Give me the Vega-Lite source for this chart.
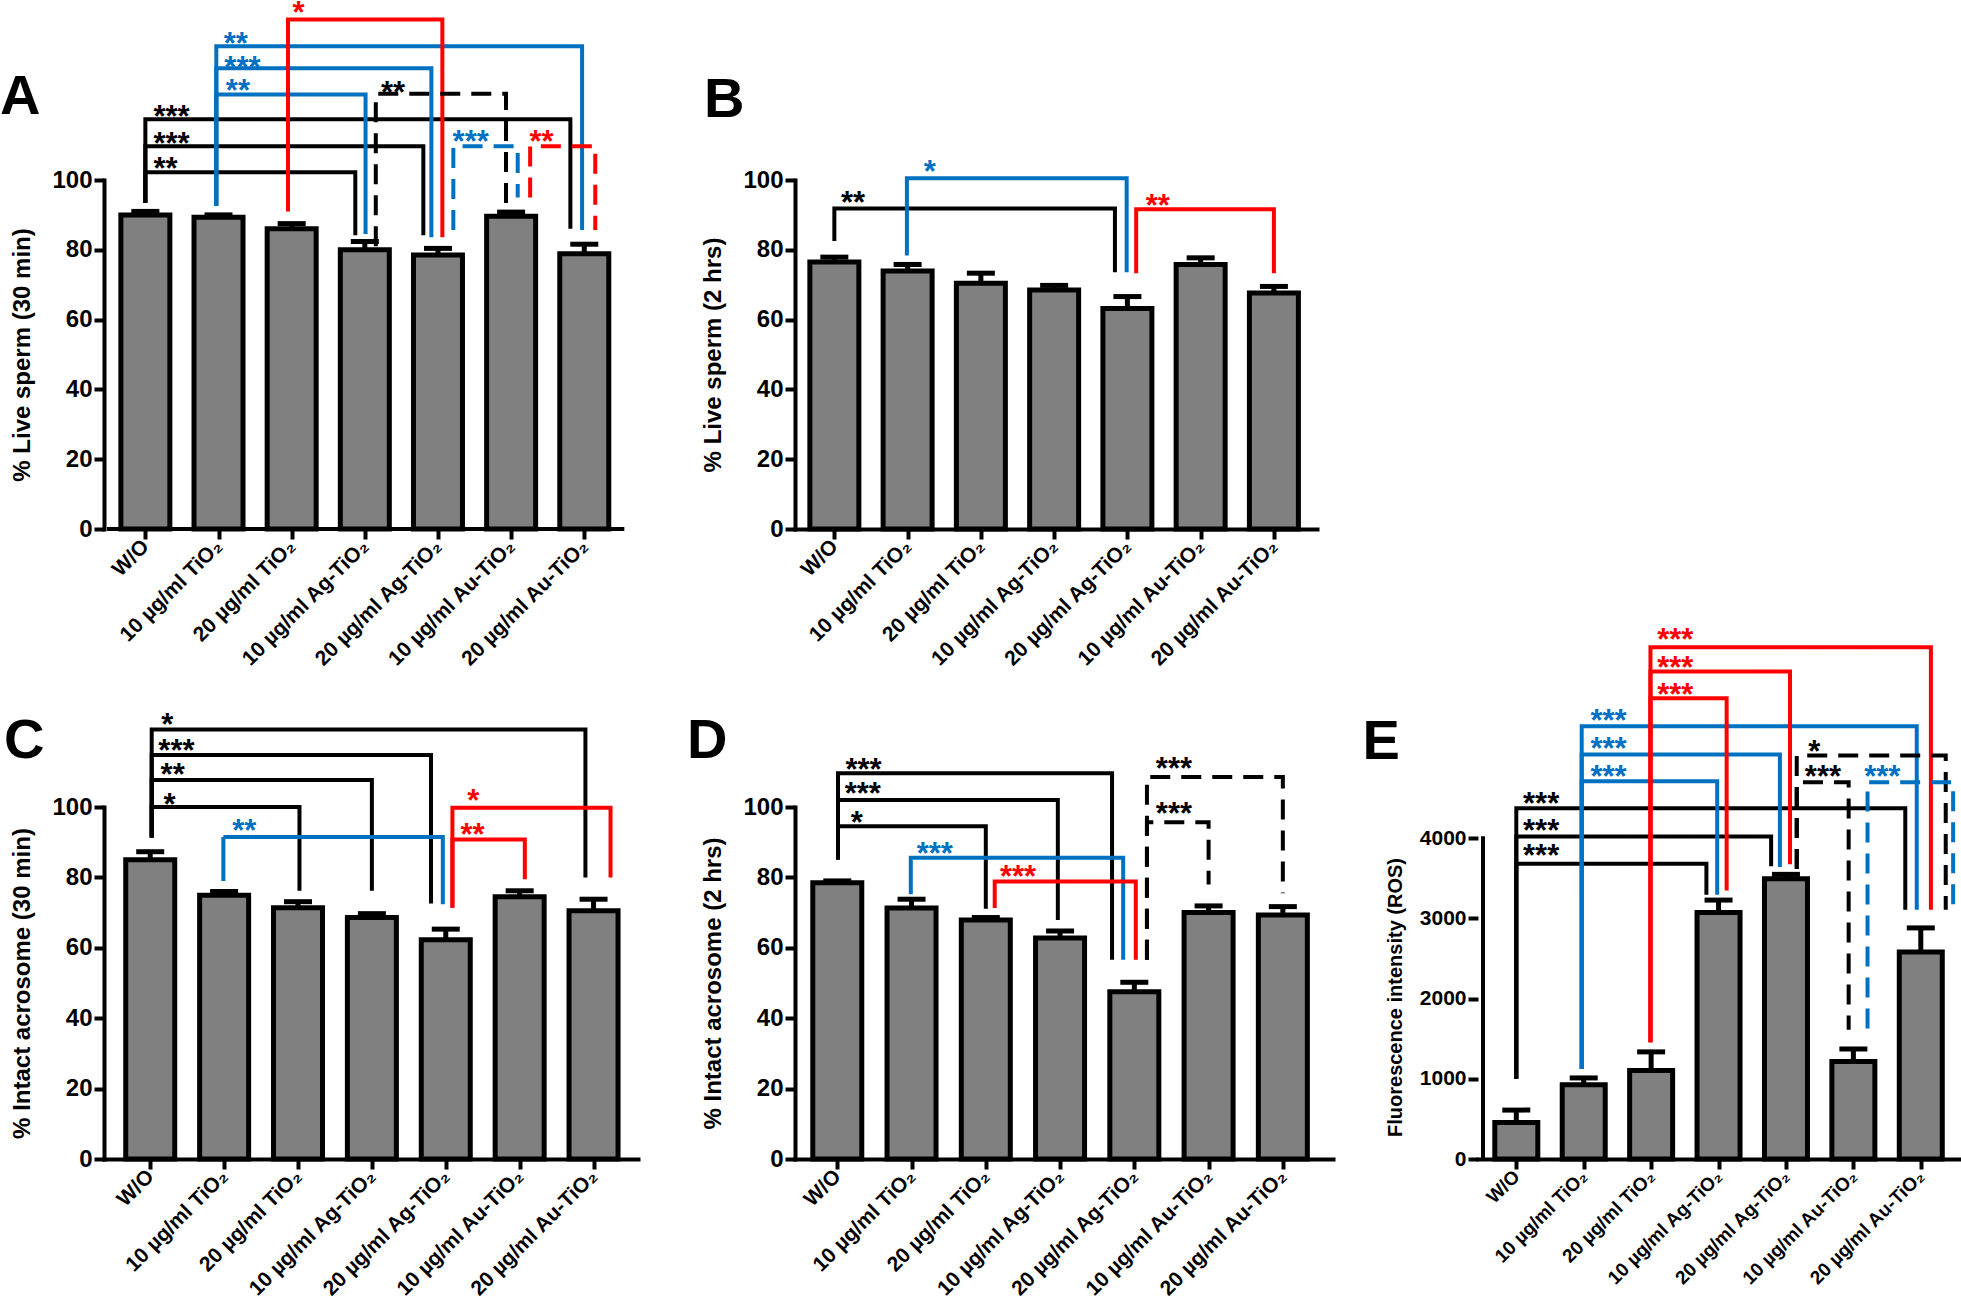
{
"$schema": "https://vega.github.io/schema/vega-lite/v6.json",
"background": "white",
"padding": {"left": 0, "top": -3, "right": 2, "bottom": 2},
"config": {
 "view": {"stroke": null},
 "axis": {"domainColor": "#000000", "domainWidth": 4, "domainCap": "square", "tickColor": "#000000", "tickWidth": 4, "tickSize": 10, "labelFont": "Liberation Sans", "labelFontWeight": "bold", "labelColor": "#000000", "titleFont": "Liberation Sans", "titleFontWeight": "bold", "titleColor": "#000000", "grid": false}
},
"datasets": {
 "barsA": [{"i":0,"mean":90.0,"hi":91.0},{"i":1,"mean":89.3,"hi":90.0},{"i":2,"mean":86.0,"hi":87.5},{"i":3,"mean":80.0,"hi":82.4},{"i":4,"mean":78.5,"hi":80.4},{"i":5,"mean":89.6,"hi":90.8},{"i":6,"mean":78.9,"hi":81.6}],
 "barsB": [{"i":0,"mean":76.5,"hi":77.9},{"i":1,"mean":73.9,"hi":75.8},{"i":2,"mean":70.4,"hi":73.3},{"i":3,"mean":68.5,"hi":69.8},{"i":4,"mean":63.2,"hi":66.6},{"i":5,"mean":75.8,"hi":77.7},{"i":6,"mean":67.6,"hi":69.5}],
 "barsC": [{"i":0,"mean":85.0,"hi":87.3},{"i":1,"mean":74.9,"hi":76.0},{"i":2,"mean":71.4,"hi":73.1},{"i":3,"mean":68.6,"hi":69.7},{"i":4,"mean":62.3,"hi":65.3},{"i":5,"mean":74.5,"hi":76.2},{"i":6,"mean":70.5,"hi":73.8}],
 "barsD": [{"i":0,"mean":78.5,"hi":79.0},{"i":1,"mean":71.3,"hi":73.8},{"i":2,"mean":67.9,"hi":68.6},{"i":3,"mean":62.8,"hi":64.8},{"i":4,"mean":47.5,"hi":50.2},{"i":5,"mean":70.0,"hi":71.9},{"i":6,"mean":69.3,"hi":71.7}],
 "barsE": [{"i":0,"mean":454,"hi":610},{"i":1,"mean":926,"hi":1011},{"i":2,"mean":1105,"hi":1336},{"i":3,"mean":3073,"hi":3229},{"i":4,"mean":3496,"hi":3550},{"i":5,"mean":1216,"hi":1372},{"i":6,"mean":2583,"hi":2882}],
 "brA": [
  {"id":"A1","o":1,"x":0,"y":93.4,"c":"black","d":"solid"},{"id":"A1","o":2,"x":0,"y":102.2,"c":"black","d":"solid"},{"id":"A1","o":3,"x":2.87,"y":102.2,"c":"black","d":"solid"},{"id":"A1","o":4,"x":2.87,"y":84.2,"c":"black","d":"solid"},
  {"id":"A2","o":1,"x":0,"y":93.4,"c":"black","d":"solid"},{"id":"A2","o":2,"x":0,"y":109.7,"c":"black","d":"solid"},{"id":"A2","o":3,"x":3.8,"y":109.7,"c":"black","d":"solid"},{"id":"A2","o":4,"x":3.8,"y":84.2,"c":"black","d":"solid"},
  {"id":"A3","o":1,"x":0,"y":93.4,"c":"black","d":"solid"},{"id":"A3","o":2,"x":0,"y":117.4,"c":"black","d":"solid"},{"id":"A3","o":3,"x":5.81,"y":117.4,"c":"black","d":"solid"},{"id":"A3","o":4,"x":5.81,"y":86,"c":"black","d":"solid"},
  {"id":"A4","o":1,"x":0.97,"y":92.6,"c":"blue","d":"solid"},{"id":"A4","o":2,"x":0.97,"y":124.5,"c":"blue","d":"solid"},{"id":"A4","o":3,"x":3.01,"y":124.5,"c":"blue","d":"solid"},{"id":"A4","o":4,"x":3.01,"y":84.5,"c":"blue","d":"solid"},
  {"id":"A5","o":1,"x":0.97,"y":92.6,"c":"blue","d":"solid"},{"id":"A5","o":2,"x":0.97,"y":132,"c":"blue","d":"solid"},{"id":"A5","o":3,"x":3.91,"y":132,"c":"blue","d":"solid"},{"id":"A5","o":4,"x":3.91,"y":83.6,"c":"blue","d":"solid"},
  {"id":"A6","o":1,"x":0.97,"y":92.6,"c":"blue","d":"solid"},{"id":"A6","o":2,"x":0.97,"y":138.3,"c":"blue","d":"solid"},{"id":"A6","o":3,"x":5.97,"y":138.3,"c":"blue","d":"solid"},{"id":"A6","o":4,"x":5.97,"y":85.7,"c":"blue","d":"solid"},
  {"id":"A7","o":1,"x":1.95,"y":91,"c":"red","d":"solid"},{"id":"A7","o":2,"x":1.95,"y":146,"c":"red","d":"solid"},{"id":"A7","o":3,"x":4.06,"y":146,"c":"red","d":"solid"},{"id":"A7","o":4,"x":4.06,"y":83.6,"c":"red","d":"solid"},
  {"id":"A8","o":1,"x":3.15,"y":81,"c":"black","d":"dash"},{"id":"A8","o":2,"x":3.15,"y":124.7,"c":"black","d":"dash"},{"id":"A8","o":3,"x":4.93,"y":124.7,"c":"black","d":"dash"},{"id":"A8","o":4,"x":4.93,"y":90.3,"c":"black","d":"dash"},
  {"id":"A9","o":1,"x":4.21,"y":85.7,"c":"blue","d":"dash"},{"id":"A9","o":2,"x":4.21,"y":109.7,"c":"blue","d":"dash"},{"id":"A9","o":3,"x":5.09,"y":109.7,"c":"blue","d":"dash"},{"id":"A9","o":4,"x":5.09,"y":95,"c":"blue","d":"dash"},
  {"id":"A10","o":1,"x":5.26,"y":95,"c":"red","d":"dash"},{"id":"A10","o":2,"x":5.26,"y":109.7,"c":"red","d":"dash"},{"id":"A10","o":3,"x":6.15,"y":109.7,"c":"red","d":"dash"},{"id":"A10","o":4,"x":6.15,"y":85.7,"c":"red","d":"dash"}
 ],
 "brB": [
  {"id":"B1","o":1,"x":0,"y":82.5,"c":"black","d":"solid"},{"id":"B1","o":2,"x":0,"y":91.8,"c":"black","d":"solid"},{"id":"B1","o":3,"x":3.83,"y":91.8,"c":"black","d":"solid"},{"id":"B1","o":4,"x":3.83,"y":73.6,"c":"black","d":"solid"},
  {"id":"B2","o":1,"x":0.99,"y":78.4,"c":"blue","d":"solid"},{"id":"B2","o":2,"x":0.99,"y":100.5,"c":"blue","d":"solid"},{"id":"B2","o":3,"x":3.99,"y":100.5,"c":"blue","d":"solid"},{"id":"B2","o":4,"x":3.99,"y":73.6,"c":"blue","d":"solid"},
  {"id":"B3","o":1,"x":4.12,"y":73.3,"c":"red","d":"solid"},{"id":"B3","o":2,"x":4.12,"y":91.6,"c":"red","d":"solid"},{"id":"B3","o":3,"x":6.0,"y":91.6,"c":"red","d":"solid"},{"id":"B3","o":4,"x":6.0,"y":73.3,"c":"red","d":"solid"}
 ],
 "brC": [
  {"id":"C1","o":1,"x":0.02,"y":91.3,"c":"black","d":"solid"},{"id":"C1","o":2,"x":0.02,"y":100,"c":"black","d":"solid"},{"id":"C1","o":3,"x":2.02,"y":100,"c":"black","d":"solid"},{"id":"C1","o":4,"x":2.02,"y":76.2,"c":"black","d":"solid"},
  {"id":"C2","o":1,"x":0.02,"y":91.3,"c":"black","d":"solid"},{"id":"C2","o":2,"x":0.02,"y":107.7,"c":"black","d":"solid"},{"id":"C2","o":3,"x":3.0,"y":107.7,"c":"black","d":"solid"},{"id":"C2","o":4,"x":3.0,"y":76.2,"c":"black","d":"solid"},
  {"id":"C3","o":1,"x":0.02,"y":91.3,"c":"black","d":"solid"},{"id":"C3","o":2,"x":0.02,"y":114.8,"c":"black","d":"solid"},{"id":"C3","o":3,"x":3.8,"y":114.8,"c":"black","d":"solid"},{"id":"C3","o":4,"x":3.8,"y":72.6,"c":"black","d":"solid"},
  {"id":"C4","o":1,"x":0.02,"y":91.3,"c":"black","d":"solid"},{"id":"C4","o":2,"x":0.02,"y":122,"c":"black","d":"solid"},{"id":"C4","o":3,"x":5.89,"y":122,"c":"black","d":"solid"},{"id":"C4","o":4,"x":5.89,"y":80,"c":"black","d":"solid"},
  {"id":"C5","o":1,"x":0.99,"y":79,"c":"blue","d":"solid"},{"id":"C5","o":2,"x":0.99,"y":91.5,"c":"blue","d":"solid"},{"id":"C5","o":3,"x":3.96,"y":91.5,"c":"blue","d":"solid"},{"id":"C5","o":4,"x":3.96,"y":72.4,"c":"blue","d":"solid"},
  {"id":"C6","o":1,"x":4.09,"y":71.4,"c":"red","d":"solid"},{"id":"C6","o":2,"x":4.09,"y":90.8,"c":"red","d":"solid"},{"id":"C6","o":3,"x":5.07,"y":90.8,"c":"red","d":"solid"},{"id":"C6","o":4,"x":5.07,"y":79.5,"c":"red","d":"solid"},
  {"id":"C7","o":1,"x":4.09,"y":71.4,"c":"red","d":"solid"},{"id":"C7","o":2,"x":4.09,"y":99.8,"c":"red","d":"solid"},{"id":"C7","o":3,"x":6.23,"y":99.8,"c":"red","d":"solid"},{"id":"C7","o":4,"x":6.23,"y":80,"c":"red","d":"solid"}
 ],
 "brD": [
  {"id":"D1","o":1,"x":0.01,"y":85.1,"c":"black","d":"solid"},{"id":"D1","o":2,"x":0.01,"y":94.5,"c":"black","d":"solid"},{"id":"D1","o":3,"x":2.0,"y":94.5,"c":"black","d":"solid"},{"id":"D1","o":4,"x":2.0,"y":71.1,"c":"black","d":"solid"},
  {"id":"D2","o":1,"x":0.01,"y":85.1,"c":"black","d":"solid"},{"id":"D2","o":2,"x":0.01,"y":102,"c":"black","d":"solid"},{"id":"D2","o":3,"x":2.97,"y":102,"c":"black","d":"solid"},{"id":"D2","o":4,"x":2.97,"y":67.9,"c":"black","d":"solid"},
  {"id":"D3","o":1,"x":0.01,"y":85.1,"c":"black","d":"solid"},{"id":"D3","o":2,"x":0.01,"y":109.6,"c":"black","d":"solid"},{"id":"D3","o":3,"x":3.7,"y":109.6,"c":"black","d":"solid"},{"id":"D3","o":4,"x":3.7,"y":56.6,"c":"black","d":"solid"},
  {"id":"D4","o":1,"x":0.99,"y":75.2,"c":"blue","d":"solid"},{"id":"D4","o":2,"x":0.99,"y":85.6,"c":"blue","d":"solid"},{"id":"D4","o":3,"x":3.85,"y":85.6,"c":"blue","d":"solid"},{"id":"D4","o":4,"x":3.85,"y":56.6,"c":"blue","d":"solid"},
  {"id":"D5","o":1,"x":2.12,"y":71.3,"c":"red","d":"solid"},{"id":"D5","o":2,"x":2.12,"y":78.8,"c":"red","d":"solid"},{"id":"D5","o":3,"x":4.02,"y":78.8,"c":"red","d":"solid"},{"id":"D5","o":4,"x":4.02,"y":56.6,"c":"red","d":"solid"},
  {"id":"D6","o":1,"x":4.17,"y":56.6,"c":"black","d":"dash"},{"id":"D6","o":2,"x":4.17,"y":108.5,"c":"black","d":"dash"},{"id":"D6","o":3,"x":6.0,"y":108.5,"c":"black","d":"dash"},{"id":"D6","o":4,"x":6.0,"y":75.5,"c":"black","d":"dash"},
  {"id":"D7","o":1,"x":4.17,"y":56.6,"c":"black","d":"dash"},{"id":"D7","o":2,"x":4.17,"y":95.7,"c":"black","d":"dash"},{"id":"D7","o":3,"x":5.0,"y":95.7,"c":"black","d":"dash"},{"id":"D7","o":4,"x":5.0,"y":78,"c":"black","d":"dash"}
 ],
 "brE": [
  {"id":"E1","o":1,"x":0,"y":1002,"c":"black","d":"solid"},{"id":"E1","o":2,"x":0,"y":3683,"c":"black","d":"solid"},{"id":"E1","o":3,"x":2.82,"y":3683,"c":"black","d":"solid"},{"id":"E1","o":4,"x":2.82,"y":3296,"c":"black","d":"solid"},
  {"id":"E2","o":1,"x":0,"y":1002,"c":"black","d":"solid"},{"id":"E2","o":2,"x":0,"y":4022,"c":"black","d":"solid"},{"id":"E2","o":3,"x":3.78,"y":4022,"c":"black","d":"solid"},{"id":"E2","o":4,"x":3.78,"y":3652,"c":"black","d":"solid"},
  {"id":"E3","o":1,"x":0,"y":1002,"c":"black","d":"solid"},{"id":"E3","o":2,"x":0,"y":4374,"c":"black","d":"solid"},{"id":"E3","o":3,"x":5.77,"y":4374,"c":"black","d":"solid"},{"id":"E3","o":4,"x":5.77,"y":3109,"c":"black","d":"solid"},
  {"id":"E4","o":1,"x":0.97,"y":1122,"c":"blue","d":"solid"},{"id":"E4","o":2,"x":0.97,"y":4712,"c":"blue","d":"solid"},{"id":"E4","o":3,"x":2.98,"y":4712,"c":"blue","d":"solid"},{"id":"E4","o":4,"x":2.98,"y":3296,"c":"blue","d":"solid"},
  {"id":"E5","o":1,"x":0.97,"y":1122,"c":"blue","d":"solid"},{"id":"E5","o":2,"x":0.97,"y":5046,"c":"blue","d":"solid"},{"id":"E5","o":3,"x":3.91,"y":5046,"c":"blue","d":"solid"},{"id":"E5","o":4,"x":3.91,"y":3643,"c":"blue","d":"solid"},
  {"id":"E6","o":1,"x":0.97,"y":1122,"c":"blue","d":"solid"},{"id":"E6","o":2,"x":0.97,"y":5398,"c":"blue","d":"solid"},{"id":"E6","o":3,"x":5.94,"y":5398,"c":"blue","d":"solid"},{"id":"E6","o":4,"x":5.94,"y":3109,"c":"blue","d":"solid"},
  {"id":"E7","o":1,"x":1.99,"y":1456,"c":"red","d":"solid"},{"id":"E7","o":2,"x":1.99,"y":5746,"c":"red","d":"solid"},{"id":"E7","o":3,"x":3.12,"y":5746,"c":"red","d":"solid"},{"id":"E7","o":4,"x":3.12,"y":3349,"c":"red","d":"solid"},
  {"id":"E8","o":1,"x":1.99,"y":1456,"c":"red","d":"solid"},{"id":"E8","o":2,"x":1.99,"y":6080,"c":"red","d":"solid"},{"id":"E8","o":3,"x":4.06,"y":6080,"c":"red","d":"solid"},{"id":"E8","o":4,"x":4.06,"y":3675,"c":"red","d":"solid"},
  {"id":"E9","o":1,"x":1.99,"y":1456,"c":"red","d":"solid"},{"id":"E9","o":2,"x":1.99,"y":6383,"c":"red","d":"solid"},{"id":"E9","o":3,"x":6.15,"y":6383,"c":"red","d":"solid"},{"id":"E9","o":4,"x":6.15,"y":3109,"c":"red","d":"solid"},
  {"id":"E10","o":1,"x":4.16,"y":3617,"c":"black","d":"dash"},{"id":"E10","o":2,"x":4.16,"y":4699,"c":"black","d":"dash"},{"id":"E10","o":3,"x":4.93,"y":4699,"c":"black","d":"dash"},{"id":"E10","o":4,"x":4.93,"y":1612,"c":"black","d":"dash"},
  {"id":"E11","o":1,"x":4.16,"y":3617,"c":"black","d":"dash"},{"id":"E11","o":2,"x":4.16,"y":5033,"c":"black","d":"dash"},{"id":"E11","o":3,"x":6.37,"y":5033,"c":"black","d":"dash"},{"id":"E11","o":4,"x":6.37,"y":3109,"c":"black","d":"dash"},
  {"id":"E12","o":1,"x":5.21,"y":1626,"c":"blue","d":"dash"},{"id":"E12","o":2,"x":5.21,"y":4699,"c":"blue","d":"dash"},{"id":"E12","o":3,"x":6.48,"y":4699,"c":"blue","d":"dash"},{"id":"E12","o":4,"x":6.48,"y":3109,"c":"blue","d":"dash"}
 ],
 "lbA": [{"x":0.11,"y":105.1,"t":"**","c":"black"},{"x":0.11,"y":112.3,"t":"***","c":"black"},{"x":0.11,"y":120.2,"t":"***","c":"black"},{"x":1.1,"y":127.4,"t":"**","c":"blue"},{"x":1.08,"y":134.0,"t":"***","c":"blue"},{"x":1.07,"y":141.1,"t":"**","c":"blue"},{"x":2.01,"y":149.9,"t":"*","c":"red"},{"x":3.22,"y":126.9,"t":"**","c":"black"},{"x":4.2,"y":112.8,"t":"***","c":"blue"},{"x":5.25,"y":112.8,"t":"**","c":"red"}],
 "lbB": [{"x":0.09,"y":95.4,"t":"**","c":"black"},{"x":1.22,"y":104.3,"t":"*","c":"blue"},{"x":4.25,"y":94.5,"t":"**","c":"red"}],
 "lbC": [{"x":0.18,"y":102.6,"t":"*","c":"black"},{"x":0.14,"y":111,"t":"**","c":"black"},{"x":0.11,"y":117.8,"t":"***","c":"black"},{"x":0.15,"y":125.2,"t":"*","c":"black"},{"x":1.11,"y":95.1,"t":"**","c":"blue"},{"x":4.2,"y":94.1,"t":"**","c":"red"},{"x":4.29,"y":103.6,"t":"*","c":"red"}],
 "lbD": [{"x":0.18,"y":97.4,"t":"*","c":"black"},{"x":0.1,"y":105.7,"t":"***","c":"black"},{"x":0.11,"y":112.5,"t":"***","c":"black"},{"x":1.07,"y":88.6,"t":"***","c":"blue"},{"x":2.19,"y":82,"t":"***","c":"red"},{"x":4.29,"y":112.9,"t":"***","c":"black"},{"x":4.29,"y":100,"t":"***","c":"black"}],
 "lbE": [{"x":0.1,"y":3862,"t":"***","c":"black"},{"x":0.1,"y":4173,"t":"***","c":"black"},{"x":0.1,"y":4512,"t":"***","c":"black"},{"x":1.1,"y":4855,"t":"***","c":"blue"},{"x":1.1,"y":5198,"t":"***","c":"blue"},{"x":1.1,"y":5554,"t":"***","c":"blue"},{"x":2.09,"y":5870,"t":"***","c":"red"},{"x":2.09,"y":6213,"t":"***","c":"red"},{"x":2.09,"y":6561,"t":"***","c":"red"},{"x":4.28,"y":4855,"t":"***","c":"black"},{"x":4.33,"y":5166,"t":"*","c":"black"},{"x":5.16,"y":4855,"t":"***","c":"blue"}]
},
"columns": 3,
"spacing": {"row": 278, "column": 145},
"bounds": "flush",
"align": {"row": "each", "column": "none"},
"resolve": {"scale": {"x": "independent", "y": "independent"}},
"concat": [
  {"width": 546, "height": 349,
   "layer": [
    {"data": {"name": "barsA"}, "mark": {"type": "bar", "orient": "vertical", "width": 49, "fill": "#808080", "stroke": "#000000", "strokeWidth": 5},
     "encoding": {"x": {"field": "i", "type": "quantitative", "scale": {"domain": [-0.497, 6.83], "nice": false, "zero": false}, "axis": {"values": [0,1,2,3,4,5,6], "domain": false, "labelExpr": "['W/O','10 µg/ml TiO₂','20 µg/ml TiO₂','10 µg/ml Ag-TiO₂','20 µg/ml Ag-TiO₂','10 µg/ml Au-TiO₂','20 µg/ml Au-TiO₂'][datum.value]", "labelAngle": -45, "labelAlign": "right", "labelBaseline": "middle", "labelFontSize": 21, "labelPadding": 4, "labelFlush": false, "labelOverlap": false, "title": null}},
      "y": {"field": "mean", "type": "quantitative", "scale": {"domain": [0, 100], "nice": false}, "axis": {"values": [0,20,40,60,80,100], "labelFontSize": 24, "labelPadding": 2, "title": "% Live sperm (30 min)", "titleFontSize": 24, "titlePadding": 17}}}},
    {"data": {"values": [{}]}, "mark": {"type": "rule", "strokeWidth": 4, "color": "#000000", "strokeCap": "square"}, "encoding": {"x": {"datum": -0.497, "type": "quantitative"}, "x2": {"datum": 6.52}, "y": {"datum": 0, "type": "quantitative"}}},
    {"data": {"name": "barsA"}, "mark": {"type": "rule", "strokeWidth": 5, "color": "#000000"}, "encoding": {"x": {"field": "i", "type": "quantitative"}, "y": {"field": "mean", "type": "quantitative"}, "y2": {"field": "hi"}}},
    {"data": {"name": "barsA"}, "mark": {"type": "tick", "orient": "horizontal", "size": 28, "thickness": 5, "color": "#000000", "opacity": 1}, "encoding": {"x": {"field": "i", "type": "quantitative"}, "y": {"field": "hi", "type": "quantitative"}}},
    {"data": {"name": "brA"}, "mark": {"type": "line", "strokeWidth": 4, "strokeJoin": "miter", "strokeCap": "butt"}, "encoding": {"x": {"field": "x", "type": "quantitative"}, "y": {"field": "y", "type": "quantitative"}, "detail": {"field": "id"}, "order": {"field": "o"}, "color": {"field": "c", "type": "nominal", "scale": {"domain": ["black","blue","red"], "range": ["#000000","#0070C0","#FF0000"]}, "legend": null}, "strokeDash": {"field": "d", "type": "nominal", "scale": {"domain": ["solid","dash"], "range": [[1,0],[20,11]]}, "legend": null}}},
    {"data": {"name": "lbA"}, "mark": {"type": "text", "align": "left", "baseline": "alphabetic", "dy": 17, "fontSize": 31, "fontWeight": "bold", "font": "Liberation Sans"}, "encoding": {"x": {"field": "x", "type": "quantitative"}, "y": {"field": "y", "type": "quantitative"}, "text": {"field": "t"}, "color": {"field": "c", "type": "nominal", "scale": {"domain": ["black","blue","red"], "range": ["#000000","#0070C0","#FF0000"]}, "legend": null}}},
    {"data": {"values": [{}]}, "mark": {"type": "text", "text": "A", "align": "left", "baseline": "alphabetic", "fontSize": 56, "fontWeight": "bold", "font": "Liberation Sans", "color": "#000000"}, "encoding": {"x": {"datum": -1.987, "type": "quantitative"}, "y": {"datum": 118.9, "type": "quantitative"}}}
   ]},
  {"width": 522, "height": 349,
   "layer": [
    {"data": {"name": "barsB"}, "mark": {"type": "bar", "orient": "vertical", "width": 49, "fill": "#808080", "stroke": "#000000", "strokeWidth": 5},
     "encoding": {"x": {"field": "i", "type": "quantitative", "scale": {"domain": [-0.469, 6.52], "nice": false, "zero": false}, "axis": {"values": [0,1,2,3,4,5,6], "labelExpr": "['W/O','10 µg/ml TiO₂','20 µg/ml TiO₂','10 µg/ml Ag-TiO₂','20 µg/ml Ag-TiO₂','10 µg/ml Au-TiO₂','20 µg/ml Au-TiO₂'][datum.value]", "labelAngle": -45, "labelAlign": "right", "labelBaseline": "middle", "labelFontSize": 21, "labelPadding": 4, "labelFlush": false, "labelOverlap": false, "title": null}},
      "y": {"field": "mean", "type": "quantitative", "scale": {"domain": [0, 100], "nice": false}, "axis": {"values": [0,20,40,60,80,100], "labelFontSize": 24, "labelPadding": 2, "title": "% Live sperm (2 hrs)", "titleFontSize": 24, "titlePadding": 17}}}},
    {"data": {"name": "barsB"}, "mark": {"type": "rule", "strokeWidth": 5, "color": "#000000"}, "encoding": {"x": {"field": "i", "type": "quantitative"}, "y": {"field": "mean", "type": "quantitative"}, "y2": {"field": "hi"}}},
    {"data": {"name": "barsB"}, "mark": {"type": "tick", "orient": "horizontal", "size": 28, "thickness": 5, "color": "#000000", "opacity": 1}, "encoding": {"x": {"field": "i", "type": "quantitative"}, "y": {"field": "hi", "type": "quantitative"}}},
    {"data": {"name": "brB"}, "mark": {"type": "line", "strokeWidth": 4, "strokeJoin": "miter", "strokeCap": "butt"}, "encoding": {"x": {"field": "x", "type": "quantitative"}, "y": {"field": "y", "type": "quantitative"}, "detail": {"field": "id"}, "order": {"field": "o"}, "color": {"field": "c", "type": "nominal", "scale": {"domain": ["black","blue","red"], "range": ["#000000","#0070C0","#FF0000"]}, "legend": null}, "strokeDash": {"field": "d", "type": "nominal", "scale": {"domain": ["solid","dash"], "range": [[1,0],[20,11]]}, "legend": null}}},
    {"data": {"name": "lbB"}, "mark": {"type": "text", "align": "left", "baseline": "alphabetic", "dy": 17, "fontSize": 31, "fontWeight": "bold", "font": "Liberation Sans"}, "encoding": {"x": {"field": "x", "type": "quantitative"}, "y": {"field": "y", "type": "quantitative"}, "text": {"field": "t"}, "color": {"field": "c", "type": "nominal", "scale": {"domain": ["black","blue","red"], "range": ["#000000","#0070C0","#FF0000"]}, "legend": null}}},
    {"data": {"values": [{}]}, "mark": {"type": "text", "text": "B", "align": "left", "baseline": "alphabetic", "fontSize": 56, "fontWeight": "bold", "font": "Liberation Sans", "color": "#000000"}, "encoding": {"x": {"datum": -1.781, "type": "quantitative"}, "y": {"datum": 118.05, "type": "quantitative"}}}
   ]},
  {"width": 10, "height": 10, "data": {"values": [{}]}, "mark": {"type": "point", "opacity": 0}, "encoding": {}},
  {"width": 534, "height": 352,
   "layer": [
    {"data": {"name": "barsC"}, "mark": {"type": "bar", "orient": "vertical", "width": 49, "fill": "#808080", "stroke": "#000000", "strokeWidth": 5},
     "encoding": {"x": {"field": "i", "type": "quantitative", "scale": {"domain": [-0.558, 6.534], "nice": false, "zero": false}, "axis": {"values": [0,1,2,3,4,5,6], "labelExpr": "['W/O','10 µg/ml TiO₂','20 µg/ml TiO₂','10 µg/ml Ag-TiO₂','20 µg/ml Ag-TiO₂','10 µg/ml Au-TiO₂','20 µg/ml Au-TiO₂'][datum.value]", "labelAngle": -45, "labelAlign": "right", "labelBaseline": "middle", "labelFontSize": 21, "labelPadding": 4, "labelFlush": false, "labelOverlap": false, "title": null}},
      "y": {"field": "mean", "type": "quantitative", "scale": {"domain": [0, 100], "nice": false}, "axis": {"values": [0,20,40,60,80,100], "labelFontSize": 24, "labelPadding": 2, "title": "% Intact acrosome (30 min)", "titleFontSize": 24, "titlePadding": 17}}}},
    {"data": {"name": "barsC"}, "mark": {"type": "rule", "strokeWidth": 5, "color": "#000000"}, "encoding": {"x": {"field": "i", "type": "quantitative"}, "y": {"field": "mean", "type": "quantitative"}, "y2": {"field": "hi"}}},
    {"data": {"name": "barsC"}, "mark": {"type": "tick", "orient": "horizontal", "size": 28, "thickness": 5, "color": "#000000", "opacity": 1}, "encoding": {"x": {"field": "i", "type": "quantitative"}, "y": {"field": "hi", "type": "quantitative"}}},
    {"data": {"name": "brC"}, "mark": {"type": "line", "strokeWidth": 4, "strokeJoin": "miter", "strokeCap": "butt"}, "encoding": {"x": {"field": "x", "type": "quantitative"}, "y": {"field": "y", "type": "quantitative"}, "detail": {"field": "id"}, "order": {"field": "o"}, "color": {"field": "c", "type": "nominal", "scale": {"domain": ["black","blue","red"], "range": ["#000000","#0070C0","#FF0000"]}, "legend": null}, "strokeDash": {"field": "d", "type": "nominal", "scale": {"domain": ["solid","dash"], "range": [[1,0],[20,11]]}, "legend": null}}},
    {"data": {"name": "lbC"}, "mark": {"type": "text", "align": "left", "baseline": "alphabetic", "dy": 17, "fontSize": 31, "fontWeight": "bold", "font": "Liberation Sans"}, "encoding": {"x": {"field": "x", "type": "quantitative"}, "y": {"field": "y", "type": "quantitative"}, "text": {"field": "t"}, "color": {"field": "c", "type": "nominal", "scale": {"domain": ["black","blue","red"], "range": ["#000000","#0070C0","#FF0000"]}, "legend": null}}},
    {"data": {"values": [{}]}, "mark": {"type": "text", "text": "C", "align": "left", "baseline": "alphabetic", "fontSize": 56, "fontWeight": "bold", "font": "Liberation Sans", "color": "#000000"}, "encoding": {"x": {"datum": -1.979, "type": "quantitative"}, "y": {"datum": 113.9, "type": "quantitative"}}}
   ]},
  {"width": 538, "height": 352,
   "layer": [
    {"data": {"name": "barsD"}, "mark": {"type": "bar", "orient": "vertical", "width": 49, "fill": "#808080", "stroke": "#000000", "strokeWidth": 5},
     "encoding": {"x": {"field": "i", "type": "quantitative", "scale": {"domain": [-0.502, 6.608], "nice": false, "zero": false}, "axis": {"values": [0,1,2,3,4,5,6], "labelExpr": "['W/O','10 µg/ml TiO₂','20 µg/ml TiO₂','10 µg/ml Ag-TiO₂','20 µg/ml Ag-TiO₂','10 µg/ml Au-TiO₂','20 µg/ml Au-TiO₂'][datum.value]", "labelAngle": -45, "labelAlign": "right", "labelBaseline": "middle", "labelFontSize": 21, "labelPadding": 4, "labelFlush": false, "labelOverlap": false, "title": null}},
      "y": {"field": "mean", "type": "quantitative", "scale": {"domain": [0, 100], "nice": false}, "axis": {"values": [0,20,40,60,80,100], "labelFontSize": 24, "labelPadding": 2, "title": "% Intact acrosome (2 hrs)", "titleFontSize": 24, "titlePadding": 17}}}},
    {"data": {"name": "barsD"}, "mark": {"type": "rule", "strokeWidth": 5, "color": "#000000"}, "encoding": {"x": {"field": "i", "type": "quantitative"}, "y": {"field": "mean", "type": "quantitative"}, "y2": {"field": "hi"}}},
    {"data": {"name": "barsD"}, "mark": {"type": "tick", "orient": "horizontal", "size": 28, "thickness": 5, "color": "#000000", "opacity": 1}, "encoding": {"x": {"field": "i", "type": "quantitative"}, "y": {"field": "hi", "type": "quantitative"}}},
    {"data": {"name": "brD"}, "mark": {"type": "line", "strokeWidth": 4, "strokeJoin": "miter", "strokeCap": "butt"}, "encoding": {"x": {"field": "x", "type": "quantitative"}, "y": {"field": "y", "type": "quantitative"}, "detail": {"field": "id"}, "order": {"field": "o"}, "color": {"field": "c", "type": "nominal", "scale": {"domain": ["black","blue","red"], "range": ["#000000","#0070C0","#FF0000"]}, "legend": null}, "strokeDash": {"field": "d", "type": "nominal", "scale": {"domain": ["solid","dash"], "range": [[1,0],[20,11]]}, "legend": null}}},
    {"data": {"name": "lbD"}, "mark": {"type": "text", "align": "left", "baseline": "alphabetic", "dy": 17, "fontSize": 31, "fontWeight": "bold", "font": "Liberation Sans"}, "encoding": {"x": {"field": "x", "type": "quantitative"}, "y": {"field": "y", "type": "quantitative"}, "text": {"field": "t"}, "color": {"field": "c", "type": "nominal", "scale": {"domain": ["black","blue","red"], "range": ["#000000","#0070C0","#FF0000"]}, "legend": null}}},
    {"data": {"values": [{}]}, "mark": {"type": "text", "text": "D", "align": "left", "baseline": "alphabetic", "fontSize": 56, "fontWeight": "bold", "font": "Liberation Sans", "color": "#000000"}, "encoding": {"x": {"datum": -2.022, "type": "quantitative"}, "y": {"datum": 113.9, "type": "quantitative"}}}
   ]},
  {"width": 485, "height": 352,
   "layer": [
    {"data": {"name": "barsE"}, "mark": {"type": "bar", "orient": "vertical", "width": 43, "fill": "#808080", "stroke": "#000000", "strokeWidth": 5},
     "encoding": {"x": {"field": "i", "type": "quantitative", "scale": {"domain": [-0.494, 6.552], "nice": false, "zero": false}, "axis": {"values": [0,1,2,3,4,5,6], "labelExpr": "['W/O','10 µg/ml TiO₂','20 µg/ml TiO₂','10 µg/ml Ag-TiO₂','20 µg/ml Ag-TiO₂','10 µg/ml Au-TiO₂','20 µg/ml Au-TiO₂'][datum.value]", "labelAngle": -45, "labelAlign": "right", "labelBaseline": "middle", "labelFontSize": 19, "labelPadding": 4, "labelFlush": false, "labelOverlap": false, "title": null}},
      "y": {"field": "mean", "type": "quantitative", "scale": {"domain": [0, 4390], "nice": false}, "axis": {"values": [0,1000,2000,3000,4000], "format": "d", "domain": false, "labelFontSize": 21, "labelPadding": 2, "title": "Fluorescence intensity (ROS)", "titleFontSize": 20, "titlePadding": 14, "titleY": 190}}}},
    {"data": {"values": [{}]}, "mark": {"type": "rule", "strokeWidth": 4, "color": "#000000", "strokeCap": "square"}, "encoding": {"x": {"datum": -0.494, "type": "quantitative"}, "y": {"datum": 0, "type": "quantitative"}, "y2": {"datum": 4000}}},
    {"data": {"name": "barsE"}, "mark": {"type": "rule", "strokeWidth": 5, "color": "#000000"}, "encoding": {"x": {"field": "i", "type": "quantitative"}, "y": {"field": "mean", "type": "quantitative"}, "y2": {"field": "hi"}}},
    {"data": {"name": "barsE"}, "mark": {"type": "tick", "orient": "horizontal", "size": 28, "thickness": 5, "color": "#000000", "opacity": 1}, "encoding": {"x": {"field": "i", "type": "quantitative"}, "y": {"field": "hi", "type": "quantitative"}}},
    {"data": {"name": "brE"}, "mark": {"type": "line", "strokeWidth": 4, "strokeJoin": "miter", "strokeCap": "butt"}, "encoding": {"x": {"field": "x", "type": "quantitative"}, "y": {"field": "y", "type": "quantitative"}, "detail": {"field": "id"}, "order": {"field": "o"}, "color": {"field": "c", "type": "nominal", "scale": {"domain": ["black","blue","red"], "range": ["#000000","#0070C0","#FF0000"]}, "legend": null}, "strokeDash": {"field": "d", "type": "nominal", "scale": {"domain": ["solid","dash"], "range": [[1,0],[20,11]]}, "legend": null}}},
    {"data": {"name": "lbE"}, "mark": {"type": "text", "align": "left", "baseline": "alphabetic", "dy": 17, "fontSize": 31, "fontWeight": "bold", "font": "Liberation Sans"}, "encoding": {"x": {"field": "x", "type": "quantitative"}, "y": {"field": "y", "type": "quantitative"}, "text": {"field": "t"}, "color": {"field": "c", "type": "nominal", "scale": {"domain": ["black","blue","red"], "range": ["#000000","#0070C0","#FF0000"]}, "legend": null}}},
    {"data": {"values": [{}]}, "mark": {"type": "text", "text": "E", "align": "left", "baseline": "alphabetic", "fontSize": 56, "fontWeight": "bold", "font": "Liberation Sans", "color": "#000000"}, "encoding": {"x": {"datum": -2.281, "type": "quantitative"}, "y": {"datum": 4988, "type": "quantitative"}}}
   ]}
]
}
